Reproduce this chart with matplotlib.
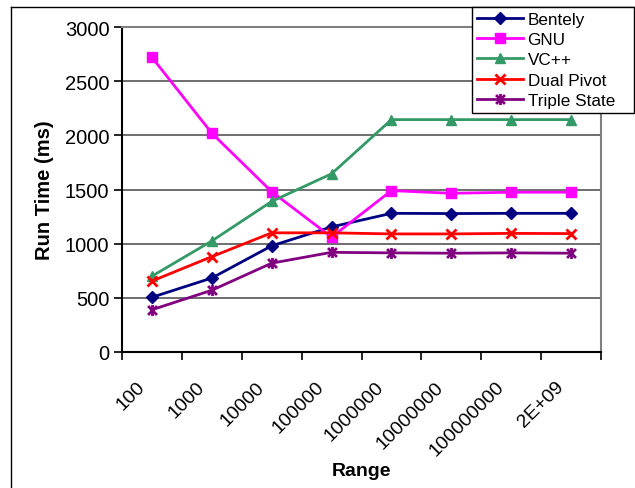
import matplotlib
matplotlib.use("Agg")
import matplotlib.pyplot as plt
from matplotlib.path import Path
from matplotlib.lines import Line2D
from matplotlib.transforms import ScaledTranslation
import numpy as np

plt.rcParams['font.family'] = ['Liberation Sans', 'DejaVu Sans']

categories = ["100", "1000", "10000", "100000", "1000000", "10000000", "100000000", "2E+09"]
bentely = [505, 683, 980, 1155, 1280, 1278, 1280, 1280]
gnu = [2720, 2020, 1480, 1060, 1490, 1465, 1475, 1475]
vcpp = [700, 1025, 1390, 1645, 2145, 2145, 2145, 2145]
dual_pivot = [655, 880, 1100, 1100, 1090, 1090, 1095, 1093]
triple_state = [390, 570, 820, 920, 915, 912, 915, 912]

star = Path([(0, -1), (0, 1), (-0.8, -0.8), (0.8, 0.8), (-0.8, 0.8), (0.8, -0.8)],
            [Path.MOVETO, Path.LINETO, Path.MOVETO, Path.LINETO, Path.MOVETO, Path.LINETO])

series = [
    ("Bentely", bentely, "#000080", "D", 6),
    ("GNU", gnu, "#FF00FF", "s", 7),
    ("VC++", vcpp, "#339966", "^", 7),
    ("Dual Pivot", dual_pivot, "#FF0000", "x", 7),
    ("Triple State", triple_state, "#800080", star, 8),
]

fig = plt.figure(figsize=(6.35, 4.89), dpi=100)
ax = fig.add_axes([122/635, 1-353/489, (601-122)/635, (353-28)/489])

x = np.arange(len(categories))
for name, vals, col, mk, ms in series:
    ax.plot(x, vals, color=col, marker=mk, markersize=ms, linewidth=2,
            markeredgewidth=2 if (mk == "x" or mk is star) else 1,
            markerfacecolor=col, markeredgecolor=col, label=name)

ax.set_xlim(-0.5, len(categories) - 0.5)
ax.set_ylim(0, 3000)
ax.set_yticks(np.arange(0, 3001, 500))
ax.yaxis.grid(True, color="#555555", linewidth=1.2)
ax.set_axisbelow(True)
ax.tick_params(axis='y', labelsize=14.5, length=6, width=1.2, direction='out', pad=3)

ax.set_xticks(x)
ax.set_xticklabels(categories, rotation=45, ha='right', va='center', rotation_mode='anchor', fontsize=14)
ax.tick_params(axis='x', which='major', length=0, pad=23)
off = ScaledTranslation(-10/100, 0, fig.dpi_scale_trans)
for lbl in ax.get_xticklabels():
    lbl.set_transform(lbl.get_transform() + off)
ax.set_xticks(np.arange(-0.5, len(categories)), minor=True)
ax.tick_params(axis='x', which='minor', length=6, width=1.2, direction='out')

for s in ['left', 'bottom']:
    ax.spines[s].set_color('black')
    ax.spines[s].set_linewidth(1.5)
for s in ['top', 'right']:
    ax.spines[s].set_color('#808080')
    ax.spines[s].set_linewidth(1.5)

ax.set_ylabel("Run Time (ms)", fontsize=14.5, fontweight='bold', labelpad=8)
ax.set_xlabel("Range", fontsize=14, fontweight='bold', labelpad=2)

leg = fig.legend(loc='upper left', mode='expand',
                 bbox_to_anchor=(472/635, 1-115/489, (634-472)/635, (115-8)/489), fontsize=12.3,
                 frameon=True, fancybox=False, framealpha=1, edgecolor='black',
                 borderpad=0.3, labelspacing=0.3, handlelength=2.7, handletextpad=0.25,
                 borderaxespad=0)
leg.get_frame().set_linewidth(1.0)

fig.add_artist(Line2D([10.5/635, 10.5/635], [0, 1-8/489], transform=fig.transFigure, color='black', linewidth=1))
fig.add_artist(Line2D([10.5/635, 1], [1-8/489, 1-8/489], transform=fig.transFigure, color='black', linewidth=1))

fig.savefig("out.png", dpi=100)
